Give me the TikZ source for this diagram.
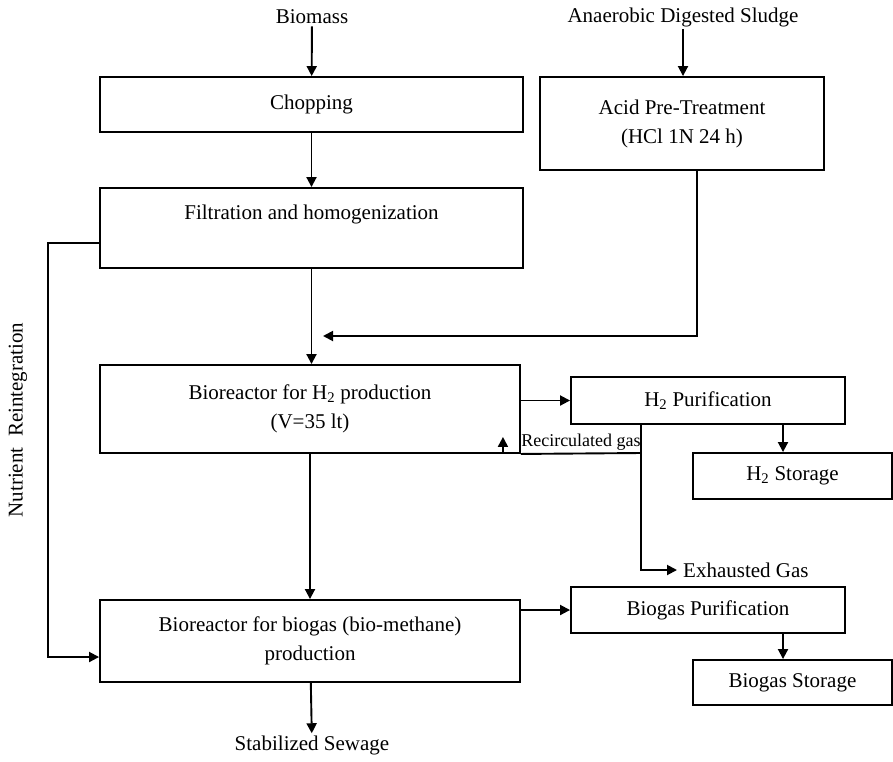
\documentclass[tikz,border=0pt]{standalone}
\usepackage{fontspec}
\setmainfont{Liberation Serif}
\usepackage{tikz}
\usetikzlibrary{shapes.geometric, arrows, arrows.meta, calc, positioning}
\tikzstyle{process} = [rectangle, text centered, align=center, draw=black, line width=1.9pt, inner sep=0pt]
\tikzstyle{plain} = [inner sep=2pt, text centered]
\tikzstyle{arrow} = [line width=1.9pt,->,>={Triangle[length=10pt,width=10pt]}]

\begin{document}
\begin{tikzpicture}[x=1pt, y=-1pt, font=\fontsize{21}{29}\selectfont]
    \useasboundingbox (0,0) rectangle (893,761);

    \node (biomass) [plain] at (312,17) {Biomass};

    \node (sludge) [plain] at (683,17) {Anaerobic Digested Sludge};

    \node (chopping) [process, minimum width=423pt, minimum height=55pt] at (311.5,104.5) {Chopping};

    \node (acid_pretreatment) [process, minimum width=284pt, minimum height=93pt] at (682,123.5) {Acid Pre-Treatment\\(HCl 1N 24 h)};

    \node (filtration) [process, minimum width=423pt, minimum height=80pt, text height=31pt, text depth=49pt] at (311.5,228) {Filtration and homogenization};

    \node (bioreactor_h2) [process, minimum width=420pt, minimum height=88pt] at (310,409) {Bioreactor for H\textsubscript{2} production\\(V=35 lt)};

    \node (h2_purification) [process, minimum width=274pt, minimum height=47pt] at (708,400.5) {H\textsubscript{2} Purification};

    \node (h2_storage) [process, minimum width=199pt, minimum height=46pt] at (792.5,476) {H\textsubscript{2} Storage};

    \node (exhausted_gas) [plain, anchor=west, inner sep=6pt] at (677,570) {Exhausted Gas};

    \node (biogas_reactor) [process, minimum width=420pt, minimum height=82pt] at (310,641) {Bioreactor for biogas (bio-methane)\\production};

    \node (biogas_purification) [process, minimum width=274pt, minimum height=46pt] at (708,610) {Biogas Purification};

    \node (biogas_storage) [process, minimum width=199pt, minimum height=45pt] at (792.5,682.5) {Biogas Storage};

    \node (stabilized) [plain] at (312,745) {Stabilized Sewage};

    \node (nutrient) [plain, rotate=90] at (18,420) {Nutrient\ \ Reintegration};

    \coordinate (h2_feed) at (323,336);
    \coordinate (gas_split) at (641,453);
    \coordinate (nutrient_line) at (48,0);

    \draw [arrow] (biomass) -- (chopping);

    \draw [arrow] (sludge) -- (sludge |- acid_pretreatment.north);

    \draw [arrow] (chopping) -- (filtration);

    \draw [arrow] (filtration.south) -- (filtration.south |- bioreactor_h2.north);

    \draw [arrow] ([xshift=15pt]acid_pretreatment.south) |- (h2_feed);

    \draw [arrow] ([yshift=-15pt]filtration.west) -- ([yshift=-15pt]filtration.west -| nutrient_line) |- ([yshift=-16pt]biogas_reactor.west);

    \draw [arrow] (bioreactor_h2.east |- h2_purification.west) -- (h2_purification.west);

    \draw [arrow] ([xshift=75pt]h2_purification.south) -- ([xshift=75pt]h2_purification.south |- h2_storage.north);

    \draw [line width=1.9pt] (gas_split |- h2_purification.south) -- (gas_split) -- node[above, inner sep=2pt, font=\fontsize{18}{20}\selectfont] {Recirculated gas} (bioreactor_h2.south east);

    \draw [arrow] (gas_split) |- (exhausted_gas.west);

    \draw [arrow] ([xshift=-18pt]bioreactor_h2.south east) -- ++(0,-17);

    \draw [arrow] (bioreactor_h2) -- (biogas_reactor);

    \draw [arrow] (biogas_reactor.east |- biogas_purification.west) -- (biogas_purification.west);

    \draw [arrow] ([xshift=75pt]biogas_purification.south) -- ([xshift=75pt]biogas_purification.south |- biogas_storage.north);

    \draw [arrow] (biogas_reactor) -- (stabilized);

\end{tikzpicture}
\end{document}
